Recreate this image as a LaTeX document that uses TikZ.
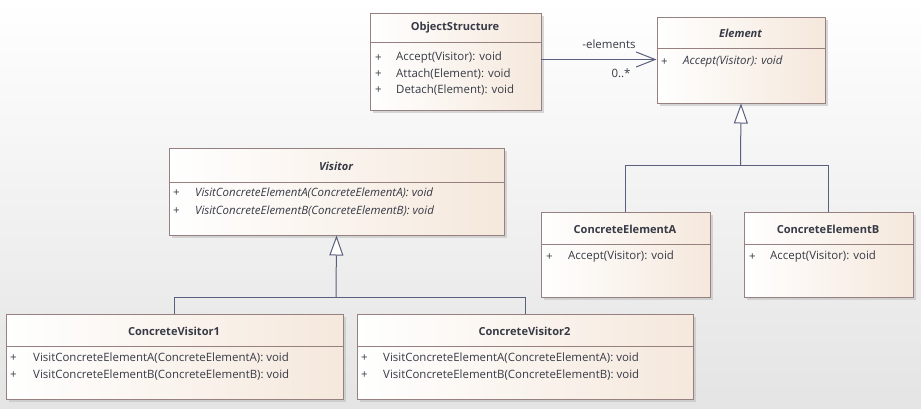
\documentclass[tikz,border=0pt]{standalone}
\usepackage{fontspec}
\setmainfont{Open Sans}
\usetikzlibrary{arrows.meta,shadows}
\definecolor{bgbot}{RGB}{228,228,228}
\definecolor{boxright}{RGB}{245,232,220}
\definecolor{boxborder}{RGB}{150,128,128}
\definecolor{conncol}{RGB}{88,96,125}
\definecolor{txt}{RGB}{55,58,70}
\newcommand{\opfont}{\fontsize{11.5}{13}\selectfont}
\newcommand{\ttlfont}{\fontsize{11.1}{13}\selectfont\bfseries}
\tikzset{
  x=1bp, y=-1bp,
  cls/.style={draw=boxborder, line width=1bp, left color=white, right color=boxright,
    anchor=north west, inner sep=0pt,
    drop shadow={shadow xshift=3bp, shadow yshift=-3bp, fill=black!25, opacity=0.6}},
  div/.style={draw=boxborder, line width=1bp},
  ttl/.style={font=\ttlfont, text=txt, inner sep=0pt},
  ttli/.style={font=\ttlfont\itshape, text=txt, inner sep=0pt},
  op/.style={font=\opfont, text=txt, anchor=west, inner sep=0pt},
  opi/.style={font=\opfont\itshape, text=txt, anchor=west, inner sep=0pt},
  conn/.style={draw=conncol, line width=1bp},
  gen/.style={conn, -{Triangle[open, length=20bp, width=14bp, fill=white!95!boxright]}},
  assoc/.style={conn, -{Straight Barb[length=19bp, width=15bp, line width=1bp]}},
  lbl/.style={font=\opfont, text=txt, inner sep=0pt}
}
\begin{document}
\begin{tikzpicture}
\fill[top color=white, bottom color=bgbot] (0,0) rectangle (921,408);
\useasboundingbox (0,0) rectangle (921,408);

% ObjectStructure
\node[cls, minimum width=171bp, minimum height=97bp] (os) at (369.5,12.5) {};
\draw[div] (369.5,42.5) -- (540.5,42.5);
\node[ttl] (ost) at (455,28) {ObjectStructure};
\node[op] (os1p) at (375,58) {+};
\node[op] (os1) at (396,58) {Accept(Visitor): void};
\node[op] (os2p) at (375,74) {+};
\node[op] (os2) at (396,74) {Attach(Element): void};
\node[op] (os3p) at (375,90) {+};
\node[op] (os3) at (396,90) {Detach(Element): void};

% Element
\node[cls, minimum width=168bp, minimum height=86bp] (el) at (656.5,16.5) {};
\draw[div] (656.5,48.5) -- (824.5,48.5);
\node[ttli] (elt) at (740.5,33) {Element};
\node[op] (el1p) at (661,62) {+};
\node[opi] (el1) at (683,62) {Accept(Visitor): void};

% Visitor
\node[cls, minimum width=335bp, minimum height=87bp] (vi) at (168.5,147.5) {};
\draw[div] (168.5,182.5) -- (503.5,182.5);
\node[ttli] (vit) at (336,166) {Visitor};
\node[op] (vi1p) at (173,193) {+};
\node[opi] (vi1) at (195,193) {VisitConcreteElementA(ConcreteElementA): void};
\node[op] (vi2p) at (173,211) {+};
\node[opi] (vi2) at (195,211) {VisitConcreteElementB(ConcreteElementB): void};

% ConcreteElementA
\node[cls, minimum width=169bp, minimum height=85bp] (cea) at (540.5,211.5) {};
\draw[div] (540.5,244.5) -- (709.5,244.5);
\node[ttl] (ceat) at (625,229) {ConcreteElementA};
\node[op] (cea1p) at (546,257) {+};
\node[op] (cea1) at (568,257) {Accept(Visitor): void};

% ConcreteElementB
\node[cls, minimum width=169bp, minimum height=85bp] (ceb) at (743.5,211.5) {};
\draw[div] (743.5,244.5) -- (912.5,244.5);
\node[ttl] (cebt) at (828,229) {ConcreteElementB};
\node[op] (ceb1p) at (749,257) {+};
\node[op] (ceb1) at (770,257) {Accept(Visitor): void};

% ConcreteVisitor1
\node[cls, minimum width=337bp, minimum height=85bp] (cv1) at (5.5,313.5) {};
\draw[div] (5.5,346.5) -- (342.5,346.5);
\node[ttl] (cv1t) at (174,331) {ConcreteVisitor1};
\node[op] (cv11p) at (10,358) {+};
\node[op] (cv11) at (33,358) {VisitConcreteElementA(ConcreteElementA): void};
\node[op] (cv12p) at (10,375) {+};
\node[op] (cv12) at (33,375) {VisitConcreteElementB(ConcreteElementB): void};

% ConcreteVisitor2
\node[cls, minimum width=336bp, minimum height=85bp] (cv2) at (356.5,313.5) {};
\draw[div] (356.5,346.5) -- (692.5,346.5);
\node[ttl] (cv2t) at (524.5,331) {ConcreteVisitor2};
\node[op] (cv21p) at (361,358) {+};
\node[op] (cv21) at (383,358) {VisitConcreteElementA(ConcreteElementA): void};
\node[op] (cv22p) at (361,375) {+};
\node[op] (cv22) at (383,375) {VisitConcreteElementB(ConcreteElementB): void};

% connectors
\coordinate (ej) at (740.5,165.5);
\draw[conn] (cea.north) |- (ej);
\draw[conn] (ceb.north) |- (ej);
\draw[gen] (ej) -- (el.south);

\coordinate (vj) at (336,297.5);
\draw[conn] (cv1.north) |- (vj);
\draw[conn] (cv2.north) |- (vj);
\draw[gen] (vj) -- (vi.south);

\coordinate (osa) at (540.5,59.5);
\coordinate (ela) at (656.5,59.5);
\draw[assoc] (osa) -- (ela);
\node[lbl] (rolel) at (609,44) {-elements};
\node[lbl] (mult) at (621,73) {0..*};
\end{tikzpicture}
\end{document}
